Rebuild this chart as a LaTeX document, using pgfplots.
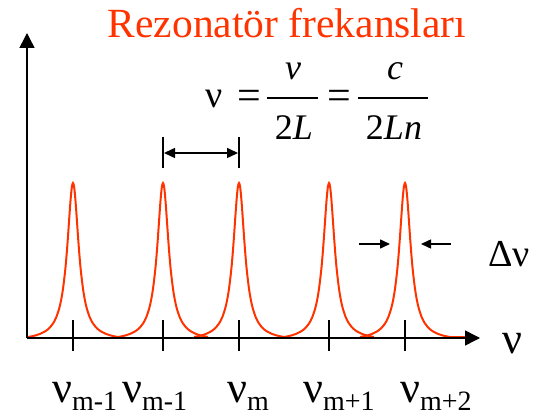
\documentclass[border=0pt]{standalone}
\usepackage{fontspec}
\setmainfont{Liberation Serif}
\usepackage{pgfplots}
\usepackage{pgfplotstable}
\pgfplotsset{compat=1.18}
\usetikzlibrary{arrows.meta}

\definecolor{laser}{RGB}{255,51,0}

% Line shape of one cavity mode (offset from the mode centre, height)
\pgfplotstableread{
dx y
-45 0
-39 1.2
-33 3.1
-28 5.6
-24 8.6
-20 13.5
-17 19.1
-14 27.8
-12 36.3
-10 48.2
-8 64.7
-7 75.1
-6 87.2
-5 100.7
-4 115.2
-3 129.5
-2 142.1
-1 150.8
0 154
1 150.8
2 142.1
3 129.5
4 115.2
5 100.7
6 87.2
7 75.1
8 64.7
10 48.2
12 36.3
14 27.8
17 19.1
20 13.5
24 8.6
28 5.6
33 3.1
39 1.2
45 0
}\modeshape

\newcommand\nulab[1]{{\fontsize{44}{44}\selectfont ν}\raisebox{-8pt}{\fontsize{28}{28}\selectfont #1}}
\pgfplotsset{mode/.style={laser, line width=2pt, smooth, no markers}}
\tikzset{eq/.style={anchor=base, inner sep=0pt, font=\fontsize{34}{34}\selectfont}}

\begin{document}
\begin{tikzpicture}
\begin{axis}[
  scale only axis, width=534pt, height=417pt,
  xmin=0, xmax=534, ymin=-80, ymax=337,
  axis lines=none, clip=false,
]
\path (axis cs:0,-80) rectangle (axis cs:534,337);

% resonator modes
\addplot[mode] table[x expr=\thisrow{dx}+73,  y=y] {\modeshape};
\addplot[mode] table[x expr=\thisrow{dx}+163, y=y] {\modeshape};
\addplot[mode] table[x expr=\thisrow{dx}+239, y=y] {\modeshape};
\addplot[mode] table[x expr=\thisrow{dx}+329, y=y] {\modeshape};
\addplot[mode] table[x expr=\thisrow{dx}+405, y=y] {\modeshape};
\addplot[laser, line width=2pt, no markers] coordinates {(27,0) (28,0)};
\addplot[laser, line width=2pt, no markers] coordinates {(450,0) (467,0)};

% axes
\draw[line width=1.5pt, -{Triangle[width=15pt,length=15pt]}] (axis cs:27,-1) -- (axis cs:27,304);
\draw[line width=1.5pt, -{Triangle[width=15pt,length=15pt]}] (axis cs:27,-1) -- (axis cs:480,-1);

% mode positions
\draw[line width=1.5pt] (axis cs:73,17) -- (axis cs:73,-14);
\draw[line width=1.5pt] (axis cs:163,17) -- (axis cs:163,-14);
\draw[line width=1.5pt] (axis cs:239,17) -- (axis cs:239,-14);
\draw[line width=1.5pt] (axis cs:329,17) -- (axis cs:329,-14);
\draw[line width=1.5pt] (axis cs:405,17) -- (axis cs:405,-14);

% free spectral range
\draw[line width=2pt] (axis cs:163,200) -- (axis cs:163,169);
\draw[line width=2pt] (axis cs:239,200) -- (axis cs:239,169);
\draw[line width=1.5pt, {Triangle[width=10pt,length=11pt]}-{Triangle[width=10pt,length=11pt]}]
  (axis cs:164,184) -- (axis cs:238,184);

% linewidth
\draw[line width=1.5pt, -{Triangle[width=9pt,length=10pt]}] (axis cs:359,93) -- (axis cs:390,93);
\draw[line width=1.5pt, -{Triangle[width=9pt,length=10pt]}] (axis cs:451,93) -- (axis cs:421,93);
\node[eq, font=\fontsize{38}{38}\selectfont] at (axis cs:509,70) {Δν};

% title
\node[anchor=base, text=laser, font=\fontsize{41.5}{41.5}\selectfont, inner sep=0pt]
  at (axis cs:287,299) {Rezonatör frekansları};

% mode spacing formula
\node[eq, font=\fontsize{38}{38}\selectfont] at (axis cs:214,229) {ν};
\node[eq, font=\fontsize{42}{42}\selectfont] at (axis cs:249,227) {=};
\draw[line width=1.5pt] (axis cs:267,239) -- (axis cs:318,239);
\node[eq, font=\fontsize{36}{36}\selectfont] at (axis cs:293,257) {\itshape v};
\node[eq, font=\fontsize{36}{36}\selectfont] at (axis cs:294,197) {2\itshape L};
\node[eq, font=\fontsize{42}{42}\selectfont] at (axis cs:339,227) {=};
\draw[line width=1.5pt] (axis cs:358,239) -- (axis cs:428,239);
\node[eq, font=\fontsize{36}{36}\selectfont] at (axis cs:395,257) {\itshape c};
\node[eq, font=\fontsize{36}{36}\selectfont] at (axis cs:394,197) {2\itshape Ln};

\node[anchor=base, font=\fontsize{44}{44}\selectfont, inner sep=0pt] at (axis cs:512,-16) {ν};

\node[anchor=base west, inner sep=0pt] at (axis cs:52,-65) {\nulab{m-1}};
\node[anchor=base west, inner sep=0pt] at (axis cs:122,-65) {\nulab{m-1}};
\node[anchor=base west, inner sep=0pt] at (axis cs:227,-65) {\nulab{m}};
\node[anchor=base west, inner sep=0pt] at (axis cs:303,-65) {\nulab{m+1}};
\node[anchor=base west, inner sep=0pt] at (axis cs:400,-65) {\nulab{m+2}};
\end{axis}
\pgfresetboundingbox
\path (current axis.south west) rectangle (current axis.north east);
\end{tikzpicture}
\end{document}
